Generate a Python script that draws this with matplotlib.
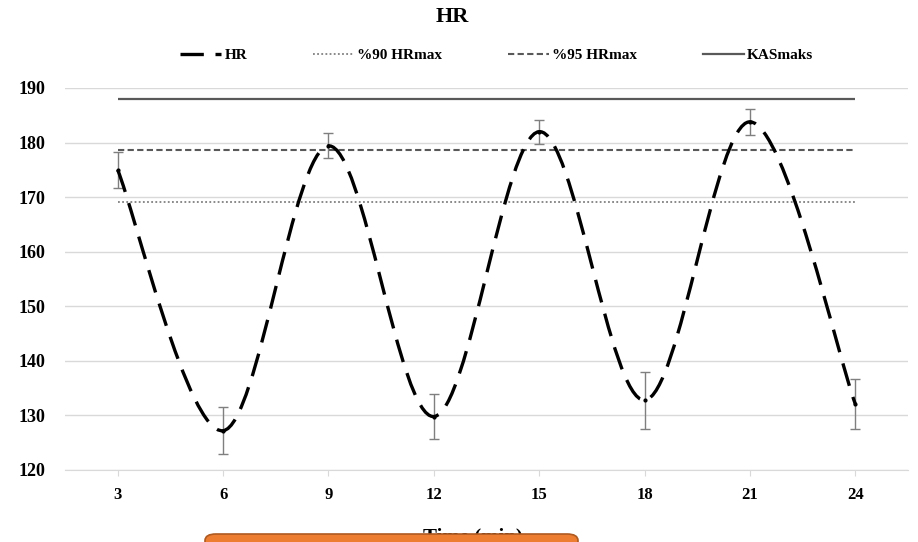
import numpy as np
import matplotlib
matplotlib.use("Agg")
import matplotlib.pyplot as plt
from matplotlib.path import Path
from matplotlib.patches import PathPatch, FancyBboxPatch
from matplotlib.lines import Line2D

# ------------------------------------------------
# Data
# ------------------------------------------------
times = ["3", "6", "9", "12", "15", "18", "21", "24"]
hr_mean = [175.0, 127.2, 179.4, 129.8, 182.0, 132.8, 183.8, 132.1]
hr_err = [3.3, 4.3, 2.3, 4.2, 2.2, 5.2, 2.4, 4.5]
hr90 = [169.2] * 8
hr95 = [178.6] * 8
kasmaks = [188.0] * 8
y_ticks = [120, 130, 140, 150, 160, 170, 180, 190]

plt.rcParams['font.family'] = ['Liberation Serif', 'DejaVu Serif']
plt.rcParams['font.weight'] = 'bold'

fig = plt.figure(figsize=(9.18, 5.42), dpi=100)
ax = fig.add_axes([65 / 918, 1 - 470 / 542, (908 - 65) / 918, (470 - 88) / 542])

x = np.arange(len(times))

# gridlines
ax.set_axisbelow(True)
ax.grid(axis='y', color='#d9d9d9', linewidth=1.0)
for side in ['left', 'right', 'top']:
    ax.spines[side].set_visible(False)
ax.spines['bottom'].set_color('#d9d9d9')

# reference lines
ax.plot(x, kasmaks, color='#595959', lw=1.6, solid_capstyle='butt')
ax.plot(x, hr95, color='#595959', lw=1.5, ls=(0, (3, 1.6)))
ax.plot(x, hr90, color='#808080', lw=1.3, ls=(0, (1, 1.3)))

# smoothed HR line (Excel-like smoothing, Catmull-Rom as cubic Bezier)
pts = np.column_stack([x, hr_mean]).astype(float)
verts = [tuple(pts[0])]
codes = [Path.MOVETO]
for i in range(len(pts) - 1):
    p0 = pts[i - 1] if i > 0 else pts[i]
    p1 = pts[i]
    p2 = pts[i + 1]
    p3 = pts[i + 2] if i + 2 < len(pts) else pts[i + 1]
    c1 = p1 + (p2 - p0) / 6.0
    c2 = p2 - (p3 - p1) / 6.0
    verts += [tuple(c1), tuple(c2), tuple(p2)]
    codes += [Path.CURVE4] * 3
hr_patch = PathPatch(Path(verts, codes), fill=False, edgecolor='black',
                     lw=2.4, ls=(0, (7, 3.5)), zorder=4)
ax.add_patch(hr_patch)
ax.plot(x, hr_mean, 'o', color='black', ms=2, zorder=4)

# error bars
ax.errorbar(x, hr_mean, yerr=hr_err, fmt='none', ecolor='#7f7f7f',
            elinewidth=1.0, capsize=3.5, capthick=1.0, zorder=3)

ax.set_xlim(-0.5, len(times) - 0.5)
ax.set_ylim(120, 190)
ax.set_xticks(x)
ax.set_xticklabels(times)
ax.set_yticks(y_ticks)
ax.tick_params(axis='y', length=0, labelsize=13, pad=14)
ax.tick_params(axis='x', length=4, color='#d9d9d9', labelsize=12, pad=8)

# title and legend
fig.text(0.493, 1 - 17 / 542, 'HR', ha='center', va='center', fontsize=16, fontweight='bold')
handles = [
    Line2D([], [], color='black', lw=2.4, ls=(0, (7, 3.5))),
    Line2D([], [], color='#808080', lw=1.3, ls=(0, (1, 1.3))),
    Line2D([], [], color='#595959', lw=1.5, ls=(0, (3, 1.6))),
    Line2D([], [], color='#595959', lw=1.6),
]
labels = ['HR', '%90 HRmax', '%95 HRmax', 'KASmaks']
fig.legend(handles, labels, loc='center', bbox_to_anchor=(0.541, 1 - 55 / 542), ncol=4,
           frameon=False, fontsize=11, handlelength=2.7, handletextpad=0.2,
           columnspacing=4.3)

# y axis title, mostly cut off at the left edge
fig.text(-0.012, 1 - 152 / 542, 'KAS (atım/dk)', rotation=90, ha='center', va='top',
         fontsize=13, fontweight='bold')

# x axis title, mostly hidden by the orange box
fig.text(473 / 918, 1 - 527 / 542, 'Time (min)', ha='center', va='top',
         fontsize=15, fontweight='bold', zorder=1)
box = FancyBboxPatch((205 / 918, -0.05), (578 - 205) / 918, 0.05 + (542 - 534) / 542,
                     boxstyle='round,pad=0,rounding_size=0.012', transform=fig.transFigure,
                     facecolor='#ed7d31', edgecolor='#ae5a21', lw=1.2, zorder=5)
fig.patches.append(box)

fig.savefig('out.png', dpi=100)
